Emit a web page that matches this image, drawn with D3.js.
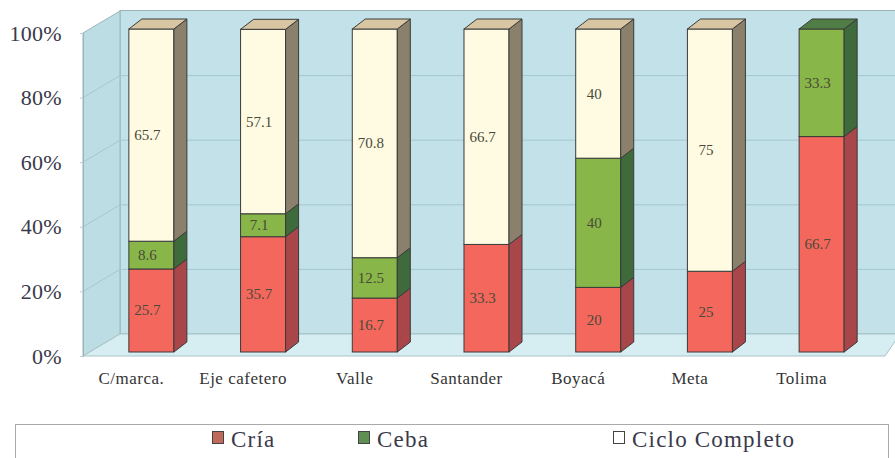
<!DOCTYPE html>
<html>
<head>
<meta charset="utf-8">
<script src="https://cdn.jsdelivr.net/npm/d3@7/dist/d3.min.js"></script>
<style>
  body { margin: 0; background: #fff; }
  svg { display: block; }
</style>
</head>
<body>
<div id="chart"></div>
<script>
// Data
var categories = ["C/marca.", "Eje cafetero", "Valle", "Santander", "Boyacá", "Meta", "Tolima"];
var seriesNames = ["Cría", "Ceba", "Ciclo Completo"];
var cria  = [25.7, 35.7, 16.7, 33.3, 20, 25, 66.7];
var ceba  = [8.6, 7.1, 12.5, 0, 40, 0, 33.3];
var ciclo = [65.7, 57.1, 70.8, 66.7, 40, 75, 0];
var yTicks = [0, 20, 40, 60, 80, 100];

var width = 895, height = 458;
var serif = "'Liberation Serif'";

// colours per series: front, side, top
var colors = [
  { front: "#f4675c", side: "#a9464a", top: "#e07a6c" },
  { front: "#88b648", side: "#3f6a3c", top: "#4f7d45" },
  { front: "#fefbe2", side: "#8b806c", top: "#d8c6a2" }
];

// 3D offsets
var wallDx = 37, wallDy = -22;   // front plane -> back wall
var barDx = 13, barDy = -10;     // bar depth

var svg = d3.select('#chart').append('svg')
  .attr('width', width).attr('height', height);

// scales (front plane)
var yFront = d3.scaleLinear().domain([0, 100]).range([356, 33]);
var yBar = d3.scaleLinear().domain([0, 100]).range([352, 29]);
var x = d3.scaleBand().domain(categories)
  .range([73, 900]).paddingInner(0.597).paddingOuter(0.5);

var x0 = 83, xBack = x0 + wallDx;
function yBack(v) { return yFront(v) + wallDy; }

// back wall
svg.append('rect')
  .attr('x', xBack).attr('y', yBack(100) - 0.5)
  .attr('width', width - xBack + 5).attr('height', yBack(0) - yBack(100) + 0.5)
  .attr('fill', '#c2e1e8').attr('stroke', '#9bb4ba');
// left wall
svg.append('path')
  .attr('d', 'M' + x0 + ',' + yFront(100) + 'L' + xBack + ',' + yBack(100) +
    'L' + xBack + ',' + yBack(0) + 'L' + x0 + ',' + yFront(0) + 'Z')
  .attr('fill', '#bcdde4').attr('stroke', '#9bb4ba');
// floor
svg.append('path')
  .attr('d', 'M' + x0 + ',' + yFront(0) + 'L' + xBack + ',' + yBack(0) +
    'L' + (width + 5) + ',' + yBack(0) + 'L' + (width - 10) + ',' + yFront(0) + 'Z')
  .attr('fill', '#d6eef1').attr('stroke', '#a9c4c9');

// gridlines
var grid = svg.append('g').attr('class', 'grid');
grid.selectAll('.hline').data(yTicks.slice(1, -1)).enter().append('line')
  .attr('x1', xBack).attr('x2', width)
  .attr('y1', function(d) { return yBack(d); }).attr('y2', function(d) { return yBack(d); })
  .attr('stroke', '#a5c7cf').attr('stroke-width', 1);
grid.selectAll('.dline').data(yTicks.slice(1, -1)).enter().append('line')
  .attr('x1', x0).attr('x2', xBack)
  .attr('y1', function(d) { return yFront(d); }).attr('y2', function(d) { return yBack(d); })
  .attr('stroke', '#a5c7cf').attr('stroke-width', 1);

// y axis
var yAxis = d3.axisLeft(yFront).tickValues(yTicks).tickSize(3).tickPadding(18)
  .tickFormat(function(d) { return d + '%'; });
var ay = svg.append('g').attr('transform', 'translate(' + x0 + ',0)').call(yAxis);
ay.select('.domain').attr('stroke', '#9bb4ba');
ay.selectAll('.tick line').attr('stroke', '#b8cdd2');
ay.selectAll('.tick text')
  .style('font-family', serif).style('font-size', '22px')
  .style('letter-spacing', '0.3px')
  .attr('fill', '#3a3a4a');

// stacked 3D bars
var series = d3.stack().keys([0, 1, 2])
  .value(function(d, k) { return d[k]; })(categories.map(function(c, i) {
    return [cria[i], ceba[i], ciclo[i]];
  }));
var values = [cria, ceba, ciclo];

var bars = svg.append('g').attr('class', 'bars');
categories.forEach(function(cat, i) {
  var bx = x(cat), bw = x.bandwidth();
  var g = bars.append('g').attr('class', 'bar');
  var topK = -1;
  series.forEach(function(s, k) {
    var v0 = s[i][0], v1 = s[i][1];
    if (v1 - v0 <= 0) return;
    topK = k;
    var yt = yBar(v1), yb = yBar(v0);
    g.append('rect')
      .attr('x', bx).attr('y', yt).attr('width', bw).attr('height', yb - yt)
      .attr('fill', colors[k].front).attr('stroke', '#3a3a3a').attr('stroke-width', 1);
    g.append('path')
      .attr('d', 'M' + (bx + bw) + ',' + yt + 'L' + (bx + bw + barDx) + ',' + (yt + barDy) +
        'L' + (bx + bw + barDx) + ',' + (yb + barDy) + 'L' + (bx + bw) + ',' + yb + 'Z')
      .attr('fill', colors[k].side).attr('stroke', '#3a3a3a').attr('stroke-width', 1);
  });
  if (topK >= 0) {
    var yt = yBar(series[topK][i][1]);
    g.append('path')
      .attr('d', 'M' + bx + ',' + yt + 'L' + (bx + barDx) + ',' + (yt + barDy) +
        'L' + (bx + bw + barDx) + ',' + (yt + barDy) + 'L' + (bx + bw) + ',' + yt + 'Z')
      .attr('fill', colors[topK].top).attr('stroke', '#3a3a3a').attr('stroke-width', 1);
  }
  // value labels
  series.forEach(function(s, k) {
    var v0 = s[i][0], v1 = s[i][1];
    if (v1 - v0 <= 0) return;
    g.append('text')
      .attr('x', bx + bw / 2 - 4)
      .attr('y', yBar((v0 + v1) / 2) + 5)
      .attr('text-anchor', 'middle')
      .style('font-family', serif)
      .style('font-size', '15px')
      .attr('fill', '#4a4a3a')
      .text(String(values[k][i]));
  });
});

// category labels
svg.append('g').selectAll('text').data(categories).enter().append('text')
  .attr('x', function(d) { return x(d) + x.bandwidth() / 2 - 20; })
  .attr('y', 384)
  .attr('text-anchor', 'middle')
  .style('font-family', serif)
  .style('font-size', '17px')
  .style('letter-spacing', '0.5px')
  .attr('fill', '#333')
  .text(function(d) { return d; });

// legend
var legend = svg.append('g').attr('class', 'legend');
legend.append('rect')
  .attr('x', 15.5).attr('y', 424.5).attr('width', 873).attr('height', 45)
  .attr('fill', '#fff').attr('stroke', '#aaa');
var legendX = [212, 358, 613];
var legendFill = ["#c06a5c", "#5f8f52", "#fff"];
seriesNames.forEach(function(n, k) {
  legend.append('rect')
    .attr('x', legendX[k] + 0.5).attr('y', 431.5).attr('width', 11).attr('height', 12)
    .attr('fill', legendFill[k]).attr('stroke', '#444');
  legend.append('text')
    .attr('x', legendX[k] + 19).attr('y', 447)
    .style('font-family', serif)
    .style('font-size', '23px')
    .style('letter-spacing', '1.2px')
    .attr('fill', '#3a3a4a')
    .text(n);
});
</script>
</body>
</html>
